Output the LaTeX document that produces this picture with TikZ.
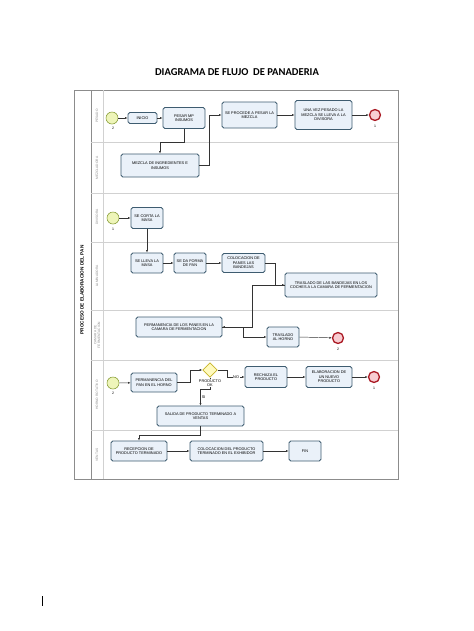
\documentclass[tikz,border=0pt]{standalone}
\usepackage{fontspec}
\setmainfont{Liberation Sans}
\newfontfamily\titlefont{Carlito}
\usetikzlibrary{arrows.meta,shapes.geometric}

\begin{document}
\begin{tikzpicture}[x=0.03cm, y=-0.03cm,
  pool/.style={draw=black!45, line width=0.4pt},
  lane/.style={draw=black!18, line width=0.4pt},
  lanelabel/.style={font=\fontsize{2.8}{3.2}\selectfont, text=black!45, rotate=90, align=center},
  task/.style={draw={rgb,255:red,62;green,92;blue,112}, fill={rgb,255:red,234;green,241;blue,249}, line width=0.7pt, rounded corners=1.5pt, font=\fontsize{3.3}{3.8}\selectfont, align=center, inner sep=1pt},
  startev/.style={circle, draw={rgb,255:red,140;green,160;blue,60}, fill={rgb,255:red,238;green,245;blue,185}, line width=0.5pt, minimum size=0.36cm, inner sep=0pt},
  endev/.style={circle, draw={rgb,255:red,170;green,25;blue,35}, fill={rgb,255:red,248;green,205;blue,210}, line width=1.1pt, minimum size=0.33cm, inner sep=0pt},
  gateway/.style={diamond, draw={rgb,255:red,200;green,180;blue,40}, fill={rgb,255:red,255;green,250;blue,190}, line width=0.6pt, minimum width=0.44cm, minimum height=0.44cm, inner sep=0pt},
  flow/.style={draw=black!80, line width=0.4pt, -{Latex[length=2.2pt, width=1.8pt]}},
  evnum/.style={font=\fontsize{3}{3}\selectfont, inner sep=0pt},
  flowlabel/.style={font=\fontsize{3.3}{3.8}\selectfont, inner sep=0.5pt, fill=white, align=center},
]
  \useasboundingbox (0,0) rectangle (474,631);

  % title
  \node[font=\titlefont\bfseries\fontsize{9}{10}\selectfont] (title) at (237,72) {DIAGRAMA DE FLUJO\ \ DE PANADERIA};

  % pool and lanes
  \draw[pool] (74,90) rectangle (398,479);
  \draw[pool] (91,90) -- (91,479);
  \draw[lane] (103,90) -- (103,479);
  \foreach \y in {142,193,242,310,360,430}
    \draw[lane] (91,\y) -- (398,\y);
  \node[font=\bfseries\fontsize{4}{4.5}\selectfont, rotate=90] (pooltitle) at (82,290) {PROCESO DE ELABORACION DEL PAN};
  \node[lanelabel] (lpesado) at (97,116) {PESADO};
  \node[lanelabel] (lmezcla) at (97,168) {MEZCLADORA};
  \node[lanelabel] (ldivisora) at (97,217) {DIVISORA};
  \node[lanelabel] (llamina) at (97,276) {LAMINADORA};
  \node[lanelabel] (lcamara) at (97,335) {CAMARA DE\\FERMENTACION};
  \node[lanelabel] (lhorno) at (97,395) {HORNO ROTATIVO};
  \node[lanelabel] (lventas) at (97,455) {VENTAS};

  % lane 1 and 2
  \node[startev] (s1) at (112,118) {};
  \node[evnum] at (113,128) {2};
  \node[task, minimum width=0.87cm, minimum height=0.33cm] (inicio) at (142.5,118) {INICIO};
  \node[task, minimum width=1.26cm, minimum height=0.63cm] (pesar) at (184,118) {PESAR MP\\INSUMOS};
  \node[task, minimum width=1.65cm, minimum height=0.78cm] (procede) at (249.5,115) {SE PROCEDE A PESAR LA\\MEZCLA};
  \node[task, minimum width=1.71cm, minimum height=0.87cm] (unavez) at (323.5,115) {UNA VEZ PESADO LA\\MEZCLA SE LLEVA A LA\\DIVISORA};
  \node[endev] (e1) at (375,115) {};
  \node[evnum] at (375,126) {1};
  \node[task, minimum width=2.34cm, minimum height=0.69cm] (mezcla) at (160,165.5) {MEZCLA DE INGREDIENTES E\\INSUMOS};

  \draw[flow] (s1) -- (inicio);
  \draw[flow] (inicio) -- (pesar);
  \draw[flow] (pesar.south) -- ++(0,13) -| (mezcla.north);
  \draw[flow] (mezcla.east) -- ++(10,0) |- (procede.west);
  \draw[flow] (procede) -- (unavez);
  \draw[flow] (unavez) -- (e1);

  % lane 3 to 5
  \node[startev] (s2) at (113,218) {};
  \node[evnum] at (113,229) {1};
  \node[task, minimum width=0.96cm, minimum height=0.63cm] (corta) at (147,218) {SE CORTA LA\\MASA};
  \node[task, minimum width=0.96cm, minimum height=0.6cm] (lleva) at (147,263) {SE LLEVA LA\\MASA};
  \node[task, minimum width=0.96cm, minimum height=0.6cm] (forma) at (190,263) {SE DA FORMA\\DE PAN};
  \node[task, minimum width=1.29cm, minimum height=0.57cm] (coloca) at (243.5,263) {COLOCACION DE\\PANES LAS\\BANDEJAS};
  \node[task, minimum width=2.76cm, minimum height=0.72cm] (trasb) at (331,285) {TRASLADO DE LAS BANDEJAS EN LOS\\COCHES A LA CAMARA DE FERMENTACION};
  \node[task, minimum width=2.58cm, minimum height=0.6cm] (permc) at (179,327) {PERMANENCIA DE LOS PANES EN LA\\CAMARA DE FERMENTACION};
  \node[task, minimum width=0.96cm, minimum height=0.6cm] (horno) at (283,337) {TRASLADO\\AL HORNO};
  \node[endev] (e2) at (338,338) {};
  \node[evnum] at (338,349) {2};

  \draw[flow] (s2) -- (corta);
  \draw[flow] (corta) -- (lleva);
  \draw[flow] (lleva) -- (forma);
  \draw[flow] (forma) -- (coloca);
  \draw[flow] (coloca.east) -- ++(10,0) |- (trasb.west);
  \draw[flow] (trasb.west) -- ++(-32,0) |- (permc.east);
  \draw[flow] (permc.east) -- ++(21,0) |- (horno.west);
  \draw[flow] (horno.east) -- (e2);

  % lane 6 and 7
  \node[startev] (s3) at (113,383) {};
  \node[evnum] at (113,393) {2};
  \node[task, minimum width=1.38cm, minimum height=0.57cm] (permh) at (154,382.5) {PERMANENCIA DEL\\PAN EN EL HORNO};
  \node[gateway] (gate) at (210,370) {};
  \node[task, minimum width=1.26cm, minimum height=0.63cm] (rechaza) at (266,377) {RECHAZA EL\\PRODUCTO};
  \node[task, minimum width=1.38cm, minimum height=0.63cm] (elab) at (329,377) {ELABORACION DE\\UN NUEVO\\PRODUCTO};
  \node[endev] (e3) at (374,377) {};
  \node[evnum] at (374,388) {1};
  \node[task, minimum width=2.61cm, minimum height=0.6cm] (salida) at (200.5,416) {SALIDA DE PRODUCTO TERMINADO A\\VENTAS};
  \node[task, minimum width=1.68cm, minimum height=0.6cm] (recep) at (139,451) {RECEPCION DE\\PRODUCTO TERMINADO};
  \node[task, minimum width=2.19cm, minimum height=0.6cm] (colprod) at (226.5,451) {COLOCACION DEL PRODUCTO\\TERMINADO EN EL EXHIBIDOR};
  \node[task, minimum width=0.96cm, minimum height=0.6cm] (fin) at (305,451) {FIN};

  \draw[flow] (s3) -- (permh);
  \draw[flow] (permh.east) -- ++(13,0) |- (gate.west);
  \draw[flow] (gate.east) -- ++(10,0) |- (rechaza.west) node[flowlabel, pos=0.75] {NO};
  \draw[flow] (gate.south) -- ++(0,12) -| (salida.north) node[flowlabel, pos=0.75, right=0.5pt] {SI};
  \node[flowlabel] (gatelabel) at (210,383) {PRODUCTO\\OK};
  \draw[flow] (rechaza) -- (elab);
  \draw[flow] (elab) -- (e3);
  \draw[flow] (salida.south) -- ++(0,9) -| (recep.north);
  \draw[flow] (recep) -- (colprod);
  \draw[flow] (colprod) -- (fin);

  \draw[black, line width=0.5pt] (42,596) -- (42,606);
\end{tikzpicture}
\end{document}
